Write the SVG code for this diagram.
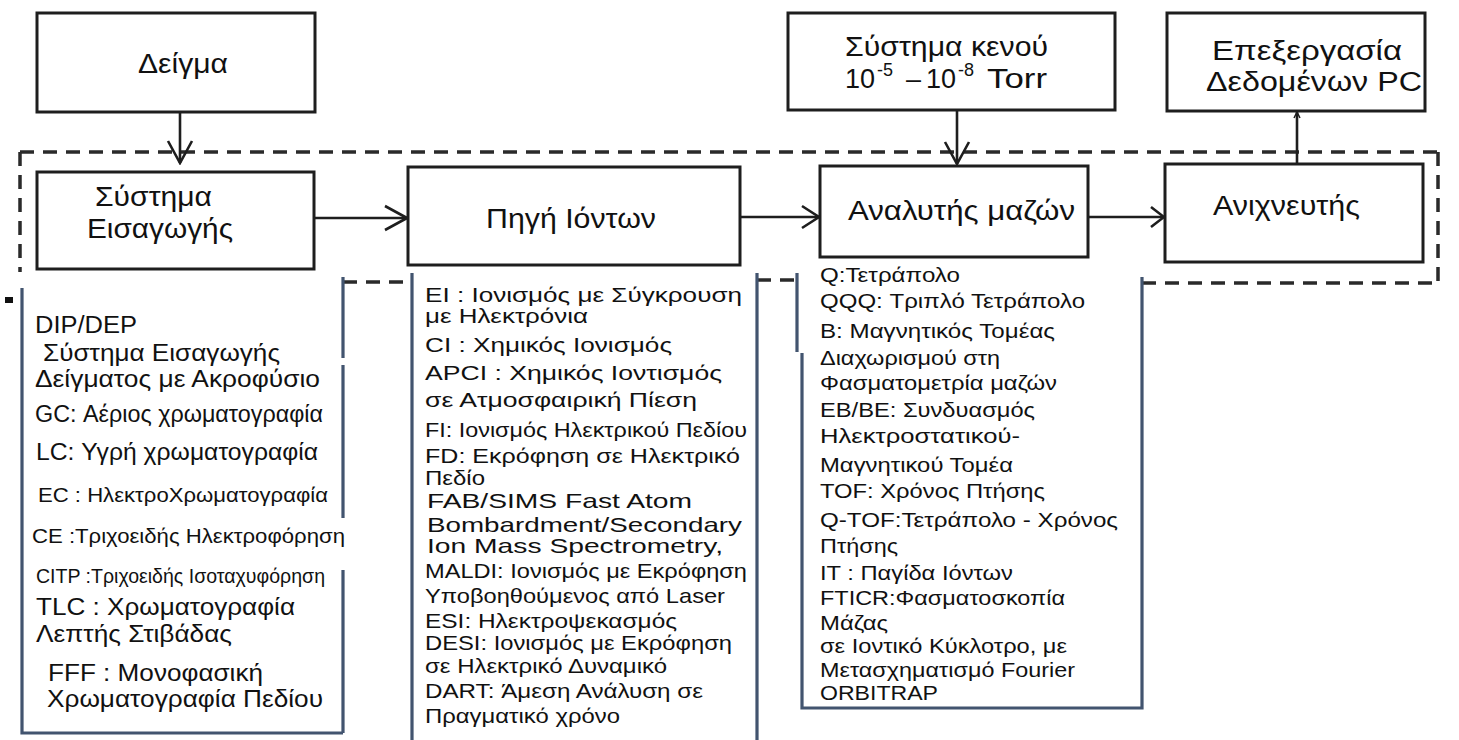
<svg xmlns="http://www.w3.org/2000/svg" width="1459" height="740" viewBox="0 0 1459 740">
<style>
.bg{fill:#ffffff}
.box{fill:#ffffff;stroke:#1e1e1e;stroke-width:3}
.dash{fill:none;stroke:#2a2a2a;stroke-width:3.5;stroke-dasharray:14 9}
.brd{fill:none;stroke:#42546f;stroke-width:3.2}
.conn{fill:none;stroke:#1e1e1e;stroke-width:2.6}
.t{font-family:"Liberation Sans",Arial,sans-serif;font-size:27px;fill:#111}
.sup{font-family:"Liberation Sans",Arial,sans-serif;font-size:18px;fill:#111}
.l{font-family:"Liberation Sans",Arial,sans-serif;font-size:21px;fill:#111}
.ll{font-family:"Liberation Sans",Arial,sans-serif;font-size:23px;fill:#111}
</style>
<defs>
<marker id="chev" markerUnits="userSpaceOnUse" viewBox="-2 -2 26 28" refX="22" refY="12" markerWidth="26" markerHeight="28" orient="auto">
<path d="M0,0 L22,12 L0,24" fill="none" stroke="#1e1e1e" stroke-width="2.6"/>
</marker>
<marker id="chevM" markerUnits="userSpaceOnUse" viewBox="-2 -2 21 26" refX="17" refY="11" markerWidth="21" markerHeight="26" orient="auto">
<path d="M0,0 L17,11 L0,22" fill="none" stroke="#1e1e1e" stroke-width="2.6"/>
</marker>
<marker id="chevS" markerUnits="userSpaceOnUse" viewBox="-2 -2 16 24" refX="13" refY="10" markerWidth="16" markerHeight="24" orient="auto">
<path d="M0,0 L13,10 L0,20" fill="none" stroke="#1e1e1e" stroke-width="2.6"/>
</marker>
<marker id="tick" markerUnits="userSpaceOnUse" viewBox="-2 -2 10 10" refX="6" refY="3" markerWidth="10" markerHeight="10" orient="auto">
<path d="M0,0 L6,3 L0,6" fill="none" stroke="#1e1e1e" stroke-width="1.5"/>
</marker>
</defs>
<rect class="bg" x="0" y="0" width="1459" height="740"/>

<g id="outline">
<line class="dash" x1="20" y1="152" x2="1437" y2="152"/>
<line class="dash" x1="20" y1="152" x2="20" y2="272"/>
<line class="dash" x1="1438" y1="152" x2="1438" y2="283"/>
<line class="dash" x1="343" y1="282" x2="412" y2="282"/>
<line class="dash" x1="757" y1="280" x2="797" y2="280"/>
<line class="dash" x1="1142" y1="283" x2="1438" y2="283"/>
<rect x="5" y="297" width="8" height="6" fill="#111"/>
</g>

<g id="n-deigma">
<rect class="box" x="37" y="13" width="278" height="99"/>
<text class="t" x="138" y="73" textLength="90" lengthAdjust="spacingAndGlyphs">Δείγμα</text>
</g>

<g id="n-eisagogi">
<rect class="box" x="37" y="172" width="277" height="97"/>
<text class="t" x="95" y="206" textLength="117" lengthAdjust="spacingAndGlyphs">Σύστημα</text>
<text class="t" x="87" y="238" textLength="146" lengthAdjust="spacingAndGlyphs">Εισαγωγής</text>
</g>

<g id="n-pigi">
<rect class="box" x="408" y="167" width="332" height="98"/>
<text class="t" x="486" y="228" textLength="170" lengthAdjust="spacingAndGlyphs">Πηγή Ιόντων</text>
</g>

<g id="n-kenou">
<rect class="box" x="788" y="13" width="327" height="97"/>
<text class="t" x="845" y="56" textLength="203" lengthAdjust="spacingAndGlyphs">Σύστημα κενού</text>
<text class="t" x="845" y="88">10</text>
<text class="sup" x="877" y="76">-5</text>
<text class="t" x="906" y="88">–</text>
<text class="t" x="926" y="88">10</text>
<text class="sup" x="958" y="76">-8</text>
<text class="t" x="987" y="88" textLength="60" lengthAdjust="spacingAndGlyphs">Torr</text>
</g>

<g id="n-analytis">
<rect class="box" x="820" y="166" width="268" height="91"/>
<text class="t" x="848" y="220" textLength="227" lengthAdjust="spacingAndGlyphs">Αναλυτής μαζών</text>
</g>

<g id="n-epexergasia">
<rect class="box" x="1167" y="13" width="258" height="98"/>
<text class="t" x="1212" y="60" textLength="190" lengthAdjust="spacingAndGlyphs">Επεξεργασία</text>
<text class="t" x="1206" y="91" textLength="216" lengthAdjust="spacingAndGlyphs">Δεδομένων PC</text>
</g>

<g id="n-anixneutis">
<rect class="box" x="1165" y="164" width="258" height="98"/>
<text class="t" x="1213" y="215" textLength="147" lengthAdjust="spacingAndGlyphs">Ανιχνευτής</text>
</g>

<g id="list-eisagogi">
<path class="brd" d="M22,288 V733 H343"/>
<path class="brd" d="M343,277 V358 M343,365 V518 M343,570 V733"/>
<text class="ll" x="35" y="333" textLength="102" lengthAdjust="spacingAndGlyphs">DIP/DEP</text>
<text class="ll" x="43" y="361" textLength="237" lengthAdjust="spacingAndGlyphs">Σύστημα Εισαγωγής</text>
<text class="ll" x="35" y="387" textLength="285" lengthAdjust="spacingAndGlyphs">Δείγματος με Ακροφύσιο</text>
<text class="ll" x="35" y="422" textLength="288" lengthAdjust="spacingAndGlyphs">GC: Αέριος χρωματογραφία</text>
<text class="ll" x="36" y="460" textLength="282" lengthAdjust="spacingAndGlyphs">LC: Υγρή χρωματογραφία</text>
<text class="l" x="38" y="502" font-size="20" textLength="290" lengthAdjust="spacingAndGlyphs">EC : ΗλεκτροΧρωματογραφία</text>
<text class="l" x="32" y="543" font-size="20" textLength="313" lengthAdjust="spacingAndGlyphs">CE :Τριχοειδής Ηλεκτροφόρηση</text>
<text class="l" x="36" y="583" font-size="18" textLength="289" lengthAdjust="spacingAndGlyphs">CITP :Τριχοειδής Ισοταχυφόρηση</text>
<text class="ll" x="36" y="615" textLength="259" lengthAdjust="spacingAndGlyphs">TLC : Χρωματογραφία</text>
<text class="ll" x="36" y="642" textLength="196" lengthAdjust="spacingAndGlyphs">Λεπτής Στιβάδας</text>
<text class="ll" x="48" y="681" textLength="215" lengthAdjust="spacingAndGlyphs">FFF : Μονοφασική</text>
<text class="ll" x="47" y="707" textLength="276" lengthAdjust="spacingAndGlyphs">Χρωματογραφία Πεδίου</text>
</g>

<g id="list-pigi">
<path class="brd" d="M412,273 V740 M757,273 V740"/>
<text class="l" x="425" y="302" textLength="317" lengthAdjust="spacingAndGlyphs">EI : Ιονισμός με Σύγκρουση</text>
<text class="l" x="425" y="323" textLength="163" lengthAdjust="spacingAndGlyphs">με Ηλεκτρόνια</text>
<text class="l" x="425" y="352" textLength="247" lengthAdjust="spacingAndGlyphs">CI : Χημικός Ιονισμός</text>
<text class="l" x="425" y="380" textLength="297" lengthAdjust="spacingAndGlyphs">APCI : Χημικός Ιοντισμός</text>
<text class="l" x="425" y="407" textLength="272" lengthAdjust="spacingAndGlyphs">σε Ατμοσφαιρική Πίεση</text>
<text class="l" x="425" y="437" textLength="322" lengthAdjust="spacingAndGlyphs">FI: Ιονισμός Ηλεκτρικού Πεδίου</text>
<text class="l" x="425" y="463" font-size="19" textLength="315" lengthAdjust="spacingAndGlyphs">FD: Εκρόφηση σε Ηλεκτρικό</text>
<text class="l" x="425" y="485" font-size="19" textLength="60" lengthAdjust="spacingAndGlyphs">Πεδίο</text>
<text class="l" x="427" y="508" textLength="265" lengthAdjust="spacingAndGlyphs">FAB/SIMS Fast Atom</text>
<text class="l" x="427" y="532" textLength="315" lengthAdjust="spacingAndGlyphs">Bombardment/Secondary</text>
<text class="l" x="427" y="553" textLength="296" lengthAdjust="spacingAndGlyphs">Ion Mass Spectrometry,</text>
<text class="l" x="425" y="578" textLength="322" lengthAdjust="spacingAndGlyphs">MALDI: Ιονισμός με Εκρόφηση</text>
<text class="l" x="425" y="603" textLength="300" lengthAdjust="spacingAndGlyphs">Υποβοηθούμενος από Laser</text>
<text class="l" x="425" y="628" textLength="252" lengthAdjust="spacingAndGlyphs">ESI:  Ηλεκτροψεκασμός</text>
<text class="l" x="425" y="650" textLength="307" lengthAdjust="spacingAndGlyphs">DESI: Ιονισμός με Εκρόφηση</text>
<text class="l" x="425" y="673" textLength="242" lengthAdjust="spacingAndGlyphs">σε Ηλεκτρικό Δυναμικό</text>
<text class="l" x="425" y="698" textLength="278" lengthAdjust="spacingAndGlyphs">DART: Άμεση Ανάλυση σε</text>
<text class="l" x="425" y="723" textLength="195" lengthAdjust="spacingAndGlyphs">Πραγματικό χρόνο</text>
</g>

<g id="list-analytis">
<path class="brd" d="M797,273 V352 M802,353 V708 H1142 V277"/>
<text class="l" x="820" y="282" textLength="140" lengthAdjust="spacingAndGlyphs">Q:Τετράπολο</text>
<text class="l" x="820" y="308" textLength="265" lengthAdjust="spacingAndGlyphs">QQQ: Τριπλό Τετράπολο</text>
<text class="l" x="820" y="338" textLength="235" lengthAdjust="spacingAndGlyphs">B: Μαγνητικός Τομέας</text>
<text class="l" x="820" y="365" textLength="180" lengthAdjust="spacingAndGlyphs">Διαχωρισμού στη</text>
<text class="l" x="820" y="390" textLength="237" lengthAdjust="spacingAndGlyphs">Φασματομετρία μαζών</text>
<text class="l" x="820" y="417" textLength="215" lengthAdjust="spacingAndGlyphs">EB/BE: Συνδυασμός</text>
<text class="l" x="820" y="443" textLength="200" lengthAdjust="spacingAndGlyphs">Ηλεκτροστατικού-</text>
<text class="l" x="820" y="472" textLength="193" lengthAdjust="spacingAndGlyphs">Μαγνητικού Τομέα</text>
<text class="l" x="820" y="498" textLength="225" lengthAdjust="spacingAndGlyphs">TOF: Χρόνος Πτήσης</text>
<text class="l" x="820" y="527" textLength="298" lengthAdjust="spacingAndGlyphs">Q-TOF:Τετράπολο - Χρόνος</text>
<text class="l" x="820" y="553" textLength="78" lengthAdjust="spacingAndGlyphs">Πτήσης</text>
<text class="l" x="820" y="580" textLength="193" lengthAdjust="spacingAndGlyphs">IT : Παγίδα Ιόντων</text>
<text class="l" x="820" y="605" textLength="245" lengthAdjust="spacingAndGlyphs">FTICR:Φασματοσκοπία</text>
<text class="l" x="820" y="630" textLength="68" lengthAdjust="spacingAndGlyphs">Μάζας</text>
<text class="l" x="820" y="653" textLength="247" lengthAdjust="spacingAndGlyphs">σε Ιοντικό Κύκλοτρο, με</text>
<text class="l" x="820" y="677" textLength="255" lengthAdjust="spacingAndGlyphs">Μετασχηματισμό Fourier</text>
<text class="l" x="820" y="700" textLength="118" lengthAdjust="spacingAndGlyphs">ORBITRAP</text>
</g>

<g id="connectors">
<line class="conn" x1="180" y1="112" x2="180" y2="163" marker-end="url(#chev)"/>
<line class="conn" x1="957" y1="110" x2="957" y2="164" marker-end="url(#chev)"/>
<line class="conn" x1="315" y1="218" x2="407" y2="218" marker-end="url(#chev)"/>
<line class="conn" x1="740" y1="217" x2="819" y2="217" marker-end="url(#chevM)"/>
<line class="conn" x1="1088" y1="217" x2="1164" y2="217" marker-end="url(#chevS)"/>
<line class="conn" x1="1297" y1="164" x2="1297" y2="112" marker-end="url(#tick)"/>
</g>
</svg>
